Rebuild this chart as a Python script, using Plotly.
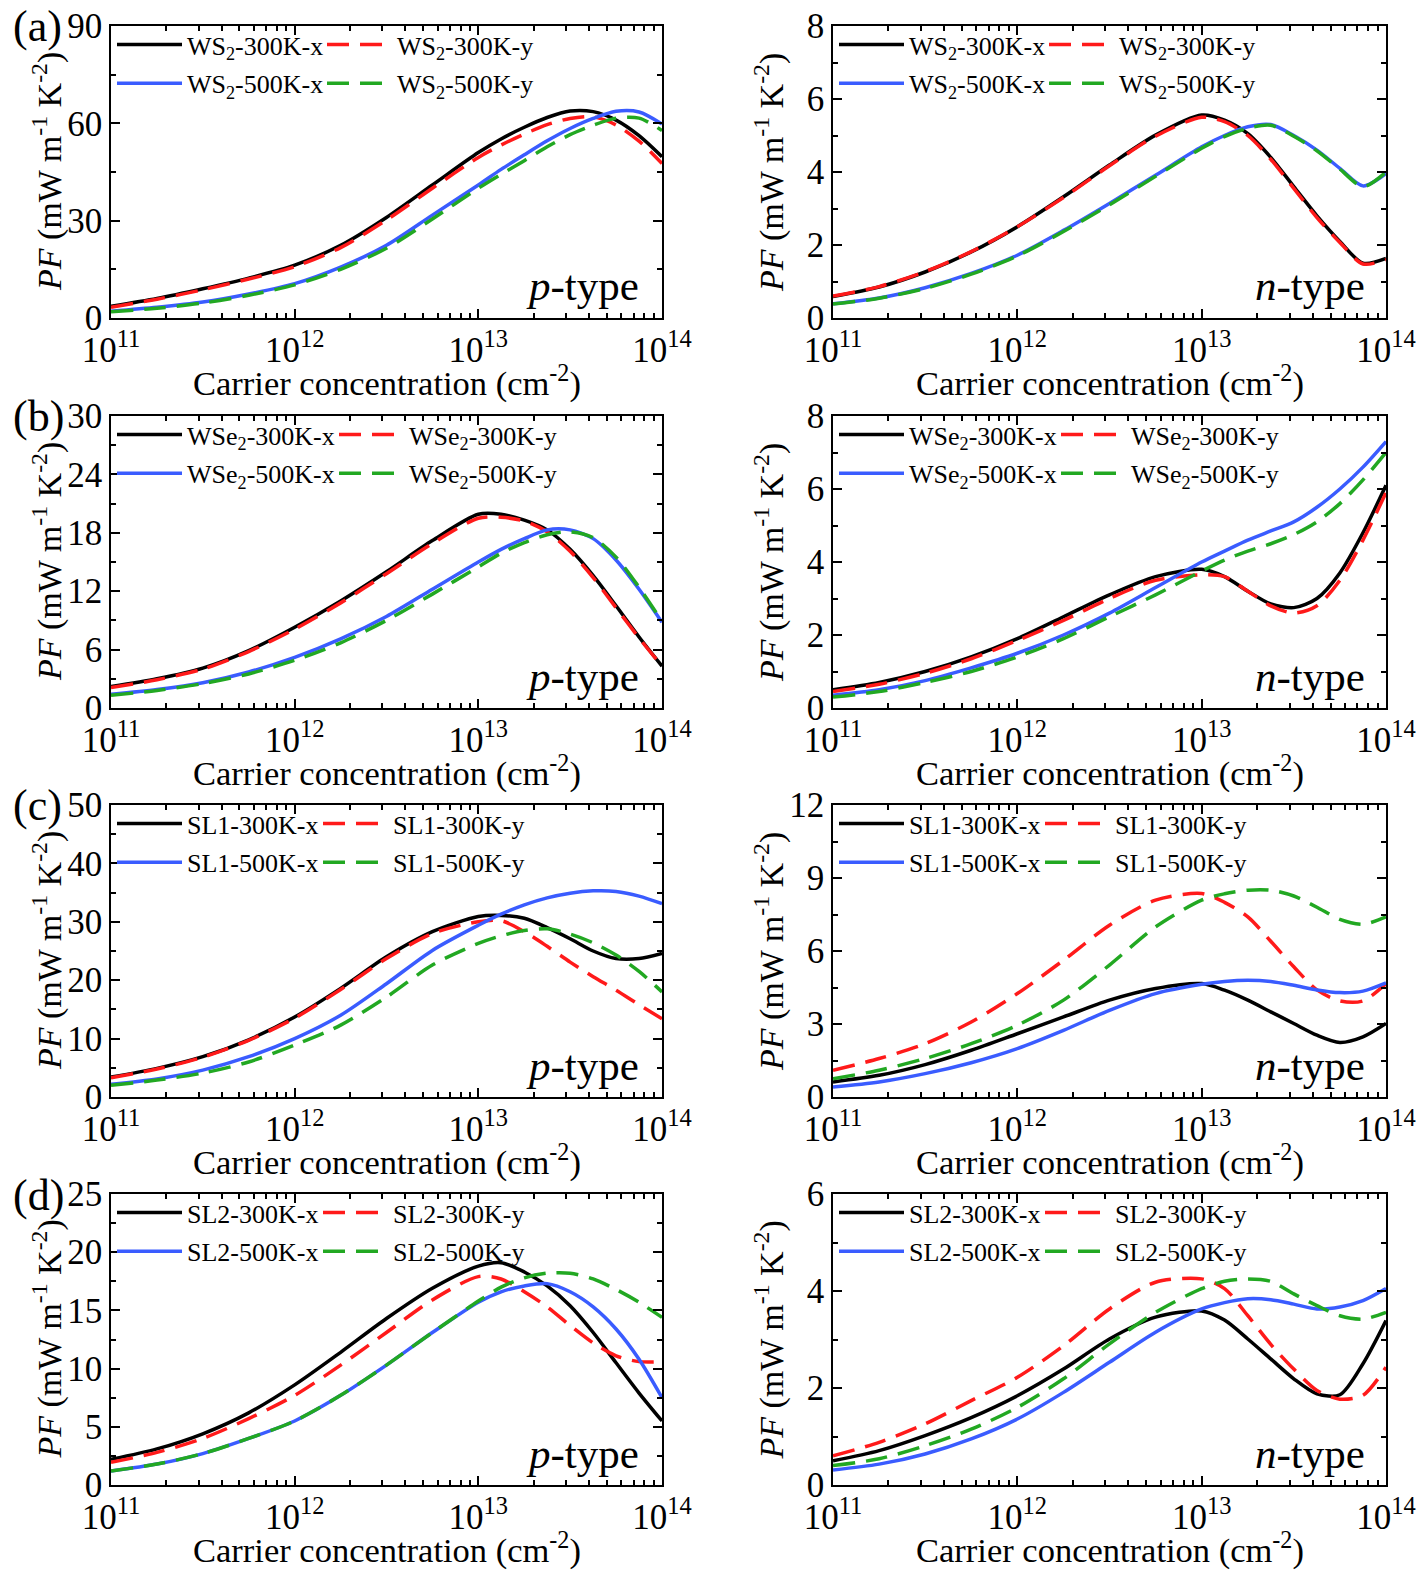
import plotly.graph_objects as go

W, H = 1421, 1576
FONT = "Liberation Serif"

# Carrier concentration (cm^-2) sample points
CONC = [1e11, 1.78e11, 3.16e11, 5.62e11, 1e12, 1.78e12, 3.16e12, 5.62e12,
        1e13, 1.33e13, 1.78e13, 2.37e13, 3.16e13, 4.22e13, 5.62e13, 7.5e13, 1e14]

# (a) WS2, p-type
WS2_P_300X = [3.6, 6.0, 9.0, 12.3, 16.3, 22.4, 31.0, 41.0, 51.0, 55.2, 58.8, 61.8, 63.8, 63.6, 61.0, 56.2, 49.7]
WS2_P_300Y = [3.3, 5.8, 8.7, 12.0, 15.8, 21.7, 30.2, 40.0, 49.5, 53.3, 56.7, 59.6, 61.5, 62.0, 59.5, 54.5, 47.6]
WS2_P_500X = [2.1, 3.3, 4.9, 7.4, 10.6, 15.7, 22.4, 31.7, 41.0, 45.8, 50.3, 54.6, 58.4, 61.5, 63.7, 63.5, 59.8]
WS2_P_500Y = [1.9, 3.0, 4.6, 7.0, 10.2, 15.0, 21.5, 30.5, 40.0, 44.3, 48.5, 52.8, 56.5, 59.4, 61.6, 61.6, 57.8]
# (a) WS2, n-type
WS2_N_300X = [0.59, 0.85, 1.26, 1.81, 2.5, 3.32, 4.19, 5.01, 5.56, 5.42, 5.05, 4.4, 3.6, 2.8, 2.1, 1.5, 1.63]
WS2_N_300Y = [0.6, 0.86, 1.27, 1.82, 2.5, 3.3, 4.17, 4.98, 5.5, 5.38, 5.0, 4.35, 3.55, 2.75, 2.07, 1.48, 1.6]
WS2_N_500X = [0.39, 0.55, 0.83, 1.22, 1.72, 2.4, 3.14, 3.91, 4.69, 5.0, 5.24, 5.3, 5.0, 4.6, 4.1, 3.62, 3.96]
WS2_N_500Y = [0.38, 0.54, 0.81, 1.2, 1.7, 2.37, 3.1, 3.88, 4.65, 4.97, 5.2, 5.28, 4.98, 4.58, 4.08, 3.6, 4.0]
# (b) WSe2, p-type
WSE2_P_300X = [2.2, 3.0, 4.1, 5.9, 8.3, 11.0, 14.0, 17.2, 19.9, 19.9, 19.3, 18.3, 16.3, 13.6, 10.5, 7.3, 4.3]
WSE2_P_300Y = [2.1, 2.9, 4.0, 5.8, 8.1, 10.8, 13.8, 16.9, 19.5, 19.6, 19.2, 18.1, 16.1, 13.4, 10.3, 7.2, 4.3]
WSE2_P_500X = [1.4, 1.9, 2.6, 3.7, 5.2, 7.1, 9.4, 12.2, 15.0, 16.3, 17.4, 18.3, 18.3, 17.4, 15.2, 12.2, 8.8]
WSE2_P_500Y = [1.3, 1.8, 2.5, 3.5, 4.9, 6.7, 9.0, 11.7, 14.5, 15.9, 17.0, 17.8, 18.1, 17.5, 15.5, 12.4, 8.9]
# (b) WSe2, n-type
WSE2_N_300X = [0.5, 0.7, 1.0, 1.4, 1.9, 2.5, 3.1, 3.6, 3.8, 3.6, 3.2, 2.85, 2.75, 3.0, 3.7, 4.8, 6.1]
WSE2_N_300Y = [0.45, 0.65, 0.95, 1.35, 1.85, 2.4, 3.0, 3.5, 3.65, 3.6, 3.2, 2.8, 2.6, 2.8, 3.5, 4.6, 5.9]
WSE2_N_500X = [0.35, 0.5, 0.75, 1.1, 1.5, 2.0, 2.6, 3.3, 4.0, 4.3, 4.6, 4.85, 5.1, 5.5, 6.0, 6.6, 7.3]
WSE2_N_500Y = [0.3, 0.45, 0.7, 1.0, 1.4, 1.9, 2.5, 3.1, 3.75, 4.05, 4.3, 4.5, 4.75, 5.1, 5.6, 6.25, 7.0]
# (c) SL1, p-type
SL1_P_300X = [3.4, 4.9, 6.9, 9.8, 13.7, 18.6, 24.0, 28.3, 30.9, 31.1, 30.6, 29.0, 27.1, 25.0, 23.7, 23.7, 24.6]
SL1_P_300Y = [3.3, 4.8, 6.8, 9.7, 13.5, 18.4, 23.7, 28.0, 30.0, 30.2, 28.3, 25.8, 23.1, 20.6, 18.3, 15.8, 13.4]
SL1_P_500X = [2.2, 3.1, 4.6, 6.9, 10.0, 14.0, 19.4, 25.1, 29.4, 31.3, 32.9, 34.1, 34.9, 35.3, 35.2, 34.4, 33.1]
SL1_P_500Y = [2.0, 2.9, 4.1, 6.0, 8.9, 12.3, 17.1, 22.6, 26.3, 27.6, 28.5, 28.8, 27.9, 26.4, 24.3, 21.5, 18.0]
# (c) SL1, n-type
SL1_N_300X = [0.62, 0.89, 1.33, 1.92, 2.6, 3.29, 3.98, 4.46, 4.66, 4.39, 3.98, 3.5, 3.02, 2.54, 2.24, 2.47, 3.02]
SL1_N_300Y = [1.1, 1.58, 2.19, 3.08, 4.25, 5.62, 7.06, 8.09, 8.36, 8.0, 7.4, 6.4, 5.35, 4.4, 3.95, 3.95, 4.66]
SL1_N_500X = [0.41, 0.62, 0.96, 1.41, 1.99, 2.74, 3.56, 4.25, 4.63, 4.75, 4.8, 4.75, 4.59, 4.4, 4.29, 4.35, 4.69]
SL1_N_500Y = [0.75, 1.1, 1.58, 2.19, 2.95, 3.98, 5.42, 6.99, 8.09, 8.35, 8.5, 8.5, 8.26, 7.8, 7.3, 7.1, 7.4]
# (d) SL2, p-type
SL2_P_300X = [2.2, 3.1, 4.4, 6.2, 8.6, 11.4, 14.3, 16.9, 18.8, 19.1, 18.3, 17.1, 15.4, 13.1, 10.5, 7.9, 5.5]
SL2_P_300Y = [1.95, 2.8, 4.0, 5.7, 7.7, 10.3, 13.1, 15.9, 17.9, 17.7, 16.6, 15.3, 13.7, 12.2, 11.1, 10.6, 10.6]
SL2_P_500X = [1.2, 1.8, 2.7, 4.0, 5.5, 7.7, 10.3, 13.1, 15.7, 16.6, 17.1, 17.3, 16.6, 15.3, 13.4, 10.8, 7.5]
SL2_P_500Y = [1.2, 1.8, 2.7, 4.0, 5.5, 7.7, 10.3, 13.1, 15.8, 17.0, 17.8, 18.2, 18.2, 17.7, 16.8, 15.7, 14.4]
# (d) SL2, n-type
SL2_N_300X = [0.5, 0.71, 1.02, 1.39, 1.84, 2.39, 3.01, 3.46, 3.59, 3.4, 3.01, 2.6, 2.19, 1.88, 1.86, 2.5, 3.39]
SL2_N_300Y = [0.6, 0.88, 1.26, 1.74, 2.22, 2.87, 3.63, 4.18, 4.25, 4.05, 3.49, 2.9, 2.39, 1.95, 1.77, 1.85, 2.43]
SL2_N_500X = [0.31, 0.43, 0.64, 0.95, 1.36, 1.91, 2.53, 3.15, 3.63, 3.76, 3.84, 3.82, 3.73, 3.63, 3.67, 3.8, 4.05]
SL2_N_500Y = [0.4, 0.54, 0.81, 1.15, 1.6, 2.19, 2.91, 3.56, 4.05, 4.2, 4.25, 4.2, 3.94, 3.7, 3.49, 3.42, 3.56]

MATERIALS = ["WS<sub>2</sub>", "WSe<sub>2</sub>", "SL1", "SL2"]
PANEL_LABELS = ["(a)", "(b)", "(c)", "(d)"]
SERIES_SUFFIX = ["-300K-x", "-300K-y", "-500K-x", "-500K-y"]
X_TICKVALS = [1e11, 1e12, 1e13, 1e14]
X_TICKTEXT = ["10<sup>11</sup>", "10<sup>12</sup>", "10<sup>13</sup>", "10<sup>14</sup>"]
X_TITLE = "Carrier concentration (cm<sup>-2</sup>)"
Y_TITLE = "<i>PF</i> (mW m<sup>-1</sup> K<sup>-2</sup>)"

# panel config: (row, col, series, ymax, dtick, type-label)
PANELS = [
    (0, 0, [WS2_P_300X, WS2_P_300Y, WS2_P_500X, WS2_P_500Y], 90, 30, "<i>p</i>-type"),
    (0, 1, [WS2_N_300X, WS2_N_300Y, WS2_N_500X, WS2_N_500Y], 8, 2, "<i>n</i>-type"),
    (1, 0, [WSE2_P_300X, WSE2_P_300Y, WSE2_P_500X, WSE2_P_500Y], 30, 6, "<i>p</i>-type"),
    (1, 1, [WSE2_N_300X, WSE2_N_300Y, WSE2_N_500X, WSE2_N_500Y], 8, 2, "<i>n</i>-type"),
    (2, 0, [SL1_P_300X, SL1_P_300Y, SL1_P_500X, SL1_P_500Y], 50, 10, "<i>p</i>-type"),
    (2, 1, [SL1_N_300X, SL1_N_300Y, SL1_N_500X, SL1_N_500Y], 12, 3, "<i>n</i>-type"),
    (3, 0, [SL2_P_300X, SL2_P_300Y, SL2_P_500X, SL2_P_500Y], 25, 5, "<i>p</i>-type"),
    (3, 1, [SL2_N_300X, SL2_N_300Y, SL2_N_500X, SL2_N_500Y], 6, 2, "<i>n</i>-type"),
]

# styles
COLORS = ["#000000", "#FF1A1A", "#3A5CFF", "#22A822"]
DASHES = ["solid", "22px,11px", "solid", "22px,11px"]
LW = 3.5

# layout geometry (pixels)
COL_LEFT = [111, 833]
COL_RIGHT = [662, 1386]
ROW_TOP = [26, 416, 805, 1194]
ROW_BOT = [318, 708, 1097, 1485]
TYPE_INSET = [21, 19]
LEGEND_COL2 = [211, 223, 207, 207]   # offset of the second legend column per row

MINOR_X = [m * 10 ** e for e in (11, 12, 13) for m in range(2, 10)]

fig = go.Figure()
layout = dict(
    width=W, height=H, margin=dict(l=0, r=0, t=0, b=0, autoexpand=False),
    paper_bgcolor="white", plot_bgcolor="white",
    font=dict(family=FONT, color="black"),
    showlegend=True, annotations=[],
)


def px(xp):
    return xp / W


def py(yp):
    return 1 - yp / H


for i, (row, col, series, ymax, dtick, tlabel) in enumerate(PANELS):
    n = i + 1
    xa = "x" if n == 1 else f"x{n}"
    ya = "y" if n == 1 else f"y{n}"
    left, right = COL_LEFT[col], COL_RIGHT[col]
    top, bot = ROW_TOP[row], ROW_BOT[row]
    mat = MATERIALS[row]
    legA = "legend" if n == 1 else f"legend{2 * n - 1}"
    legB = f"legend{2 * n}"
    for k in range(4):
        fig.add_trace(go.Scatter(
            x=CONC, y=series[k], mode="lines",
            name=mat + SERIES_SUFFIX[k],
            line=dict(color=COLORS[k], width=LW, dash=DASHES[k], shape="spline", smoothing=0.8),
            xaxis=xa, yaxis=ya,
            legend=legA if k in (0, 2) else legB,
            legendgroup=f"g{n}_{k}",
            hoverinfo="skip",
        ))
    axis_common = dict(
        showline=True, linecolor="black", linewidth=1.5, mirror="ticks",
        ticks="inside", tickwidth=1.5, tickcolor="black", showgrid=False, zeroline=False,
        tickfont=dict(family=FONT, size=35, color="black"), automargin=False,
    )
    layout["xaxis" if n == 1 else f"xaxis{n}"] = dict(
        axis_common, type="log", range=[11, 14],
        domain=[px(left), px(right)], anchor=ya,
        tickmode="array", tickvals=X_TICKVALS, ticktext=X_TICKTEXT, ticklen=9,
        minor=dict(tickmode="array", tickvals=MINOR_X, ticks="inside", ticklen=5, tickwidth=1.5, tickcolor="black", showgrid=False),
    )
    layout["yaxis" if n == 1 else f"yaxis{n}"] = dict(
        axis_common, range=[0, ymax],
        domain=[py(bot), py(top)], anchor=xa,
        tick0=0, dtick=dtick, ticklen=9,
        minor=dict(tick0=0, dtick=dtick / 2, ticks="inside", ticklen=5, tickwidth=1.5, tickcolor="black", showgrid=False),
    )
    legend_common = dict(
        orientation="v", xanchor="left", yanchor="top", traceorder="grouped",
        bgcolor="rgba(0,0,0,0)", borderwidth=0,
        font=dict(family=FONT, size=26, color="black"),
        itemwidth=65, tracegroupgap=2,
    )
    layout[legA] = dict(legend_common, x=px(left + 1), y=py(top - 5))
    layout[legB] = dict(legend_common, x=px(left + LEGEND_COL2[row]), y=py(top - 5))
    # axis titles
    layout["annotations"].append(dict(
        text=X_TITLE, xref="paper", yref="paper", x=px((left + right) / 2), y=py(bot + 63),
        xanchor="center", yanchor="middle", showarrow=False,
        font=dict(family=FONT, size=34.5, color="black"),
    ))
    layout["annotations"].append(dict(
        text=Y_TITLE, xref="paper", yref="paper", x=px(left - 64), y=py((top + bot) / 2),
        xanchor="center", yanchor="middle", showarrow=False, textangle=-90,
        font=dict(family=FONT, size=34, color="black"),
    ))
    layout["annotations"].append(dict(
        text=tlabel, xref="paper", yref="paper", x=px(right - TYPE_INSET[col]), y=py(bot - 32),
        xanchor="right", yanchor="middle", showarrow=False,
        font=dict(family=FONT, size=43, color="black"),
    ))
    if col == 0:
        layout["annotations"].append(dict(
            text=PANEL_LABELS[row], xref="paper", yref="paper", x=px(11), y=py(top + 1),
            xanchor="left", yanchor="middle", showarrow=False,
            font=dict(family=FONT, size=44, color="black"),
        ))

fig.update_layout(**layout)
# remove the default 8px page margin so the figure sits at the window's top-left corner
fig.write_html("out.html", config={"displayModeBar": False},
               post_script="document.body.style.margin='0px';")
